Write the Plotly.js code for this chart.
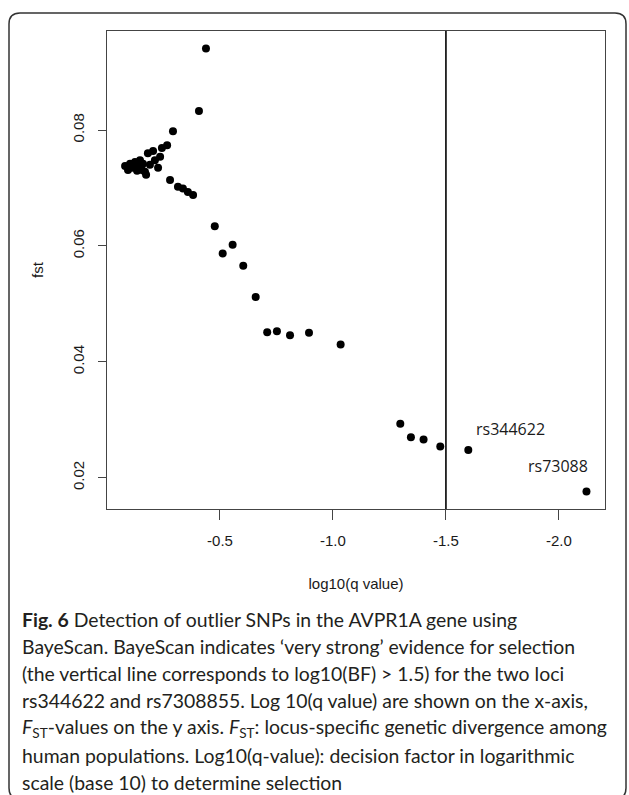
<!DOCTYPE html>
<html>
<head>
<meta charset="utf-8">
<script src="https://cdn.plot.ly/plotly-3.0.1.min.js"></script>
<style>
  html, body { margin: 0; padding: 0; background: #fff; }
  #chart { width: 629px; height: 795px; }
</style>
</head>
<body>
<div id="chart"></div>
<script>
// ---- data ----
const logQ = [
  -0.080, -0.093, -0.102, -0.115, -0.124, -0.137, -0.146, -0.155, -0.168, -0.173,
  -0.133, -0.159, -0.181, -0.204, -0.190, -0.212, -0.235, -0.226, -0.243, -0.266,
  -0.292, -0.279, -0.314, -0.336, -0.358, -0.381, -0.407, -0.438,
  -0.477, -0.556, -0.512, -0.603, -0.658, -0.709, -0.752, -0.810, -0.894, -1.034,
  -1.298, -1.345, -1.401, -1.475, -1.599, -2.122
];
const fst = [
  0.0738, 0.0731, 0.0742, 0.0735, 0.0745, 0.0738, 0.0748, 0.0731, 0.0728, 0.0723,
  0.0730, 0.0742, 0.0760, 0.0764, 0.0740, 0.0748, 0.0754, 0.0735, 0.0769, 0.0774,
  0.0798, 0.0714, 0.0702, 0.0699, 0.0693, 0.0688, 0.0833, 0.0941,
  0.0634, 0.0602, 0.0587, 0.0566, 0.0512, 0.0451, 0.0453, 0.0446, 0.0450, 0.0430,
  0.0293, 0.0270, 0.0266, 0.0254, 0.0248, 0.0176
];
const xTicks = [-0.5, -1.0, -1.5, -2.0];
const xTickText = ['-0.5', '-1.0', '-1.5', '-2.0'];
const yTicks = [0.02, 0.04, 0.06, 0.08];
const yTickText = ['0.02', '0.04', '0.06', '0.08'];
const threshold = -1.5;
const labelNames = ['rs344622', 'rs73088'];
const labelX = [-1.786, -1.998];
const labelY = [0.0284, 0.0220];
const captionLines = [
  '<b>Fig. 6</b> Detection of outlier SNPs in the AVPR1A gene using',
  'BayeScan. BayeScan indicates ‘very strong’ evidence for selection',
  '(the vertical line corresponds to log10(BF) > 1.5) for the two loci',
  'rs344622 and rs7308855. Log 10(q value) are shown on the x-axis,',
  '<i>F</i><sub>ST</sub>-values on the y axis. <i>F</i><sub>ST</sub>: locus-specific genetic divergence among',
  'human populations. Log10(q-value): decision factor in logarithmic',
  'scale (base 10) to determine selection'
];

// ---- layout geometry (pixels) ----
const W = 629, H = 795;
const mL = 107, mR = 24, mT = 31, mB = 286;
const pw = W - mL - mR, ph = H - mT - mB;
const px2x = p => (p - mL) / pw;
const py2y = p => (H - mB - p) / ph;

// rounded outer frame
function roundRect(l, t, r, b, rad) {
  const X = px2x, Y = py2y;
  return `M ${X(l + rad)} ${Y(t)} L ${X(r - rad)} ${Y(t)} Q ${X(r)} ${Y(t)} ${X(r)} ${Y(t + rad)} ` +
         `L ${X(r)} ${Y(b - rad)} Q ${X(r)} ${Y(b)} ${X(r - rad)} ${Y(b)} ` +
         `L ${X(l + rad)} ${Y(b)} Q ${X(l)} ${Y(b)} ${X(l)} ${Y(b - rad)} ` +
         `L ${X(l)} ${Y(t + rad)} Q ${X(l)} ${Y(t)} ${X(l + rad)} ${Y(t)} Z`;
}

const axisFont = { family: 'Liberation Sans, Arial, sans-serif', size: 15, color: '#1a1a1a' };

const traces = [{
  type: 'scatter', mode: 'markers',
  x: logQ, y: fst,
  marker: { color: '#000', size: 8 },
  hoverinfo: 'x+y'
}];

const annotations = labelNames.map((t, i) => ({
  x: labelX[i], y: labelY[i], xref: 'x', yref: 'y', text: t, showarrow: false,
  font: { family: 'Open Sans, sans-serif', size: 16, color: '#1a1a1a' },
  xanchor: 'center', yanchor: 'middle'
}));

captionLines.forEach((t, i) => {
  annotations.push({
    x: px2x(20), y: py2y(619 + i * 27.3), xref: 'paper', yref: 'paper',
    text: t, showarrow: false, xanchor: 'left', yanchor: 'middle', align: 'left',
    font: { family: 'Lato, Open Sans, sans-serif', size: 19.4, color: '#231f20' }
  });
});

const layout = {
  width: W, height: H,
  margin: { l: mL, r: mR, t: mT, b: mB, pad: 0 },
  paper_bgcolor: '#fff', plot_bgcolor: '#fff',
  showlegend: false,
  xaxis: {
    range: [0.0, -2.204], autorange: false,
    tickvals: xTicks, ticktext: xTickText,
    ticks: 'outside', ticklen: 10, tickwidth: 1, tickcolor: '#444',
    showline: true, mirror: true, linecolor: '#444', linewidth: 1,
    showgrid: false, zeroline: false,
    tickfont: axisFont, ticklabelstandoff: 8,
    title: { text: 'log10(q value)', font: axisFont, standoff: 30 }
  },
  yaxis: {
    range: [0.0146, 0.0971], autorange: false,
    tickvals: yTicks, ticktext: yTickText, tickangle: -90,
    ticks: 'outside', ticklen: 8, tickwidth: 1, tickcolor: '#444',
    showline: true, mirror: true, linecolor: '#444', linewidth: 1,
    showgrid: false, zeroline: false,
    tickfont: axisFont, ticklabelstandoff: 8,
    title: { text: 'fst', font: axisFont, standoff: 22 }
  },
  shapes: [
    { type: 'line', xref: 'x', yref: 'paper', x0: threshold, x1: threshold, y0: 0, y1: 1,
      line: { color: '#000', width: 1.6 } },
    { type: 'path', xref: 'paper', yref: 'paper', path: roundRect(9, 13, 626, 799, 11),
      line: { color: '#333', width: 1.5 }, fillcolor: 'rgba(0,0,0,0)' }
  ],
  annotations: annotations
};

Plotly.newPlot('chart', traces, layout, { displayModeBar: false, staticPlot: true });
</script>
</body>
</html>
